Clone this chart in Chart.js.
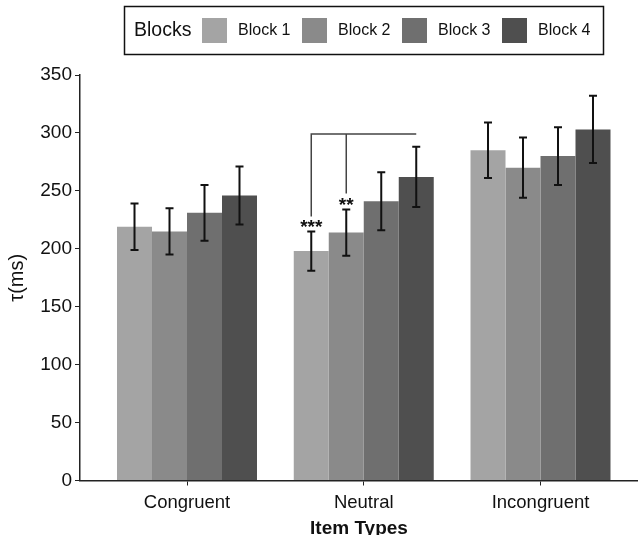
<!DOCTYPE html>
<html>
<head>
<meta charset="utf-8">
<script src="https://cdn.jsdelivr.net/npm/chart.js@4"></script>
<style>
    body { margin: 0; background: #fff; }
</style>
</head>
<body>
<canvas id="chart" width="638" height="535"></canvas>
<script>
/* Categories and series */
const categories = ["Congruent", "Neutral", "Incongruent"];
const blockNames = ["Block 1", "Block 2", "Block 3", "Block 4"];
const block1 = [219, 198, 285];
const block2 = [215, 214, 270];
const block3 = [231, 241, 280];
const block4 = [246, 262, 303];

/* Error bar half widths */
const block1Err = [20, 17, 24];
const block2Err = [20, 20, 26];
const block3Err = [24, 25, 25];
const block4Err = [25, 26, 29];

/* Axis ticks */
const yTicks = [0, 50, 100, 150, 200, 250, 300, 350];

/* Significance bracket on Neutral */
const bracketLevel = 299;
const sigMarks = ["***", "**"];

const barColours = ["#a4a4a4", "#8a8a8a", "#6f6f6f", "#4f4f4f"];
const seriesValues = [block1, block2, block3, block4];
const seriesErrors = [block1Err, block2Err, block3Err, block4Err];
const FONT = "'Liberation Sans', Arial, sans-serif";

Chart.defaults.font.family = FONT;
Chart.defaults.color = "#111";

/* Error bars */
const errorBars = {
    id: "errorBars",
    afterDatasetsDraw(chart) {
        const ctx = chart.ctx;
        const y = chart.scales.y;
        ctx.save();
        ctx.strokeStyle = "#111";
        ctx.lineWidth = 2;
        chart.data.datasets.forEach((ds, i) => {
            chart.getDatasetMeta(i).data.forEach((bar, j) => {
                const v = seriesValues[i][j], e = seriesErrors[i][j];
                const top = y.getPixelForValue(v + e);
                const bot = y.getPixelForValue(v - e);
                ctx.beginPath();
                ctx.moveTo(bar.x, top); ctx.lineTo(bar.x, bot);
                ctx.moveTo(bar.x - 4, top); ctx.lineTo(bar.x + 4, top);
                ctx.moveTo(bar.x - 4, bot); ctx.lineTo(bar.x + 4, bot);
                ctx.stroke();
            });
        });
        ctx.restore();
    }
};

/* Bracket with stars */
const bracket = {
    id: "bracket",
    afterDatasetsDraw(chart) {
        const ctx = chart.ctx;
        const y = chart.scales.y;
        const j = 1;
        const b1 = chart.getDatasetMeta(0).data[j];
        const b2 = chart.getDatasetMeta(1).data[j];
        const b4 = chart.getDatasetMeta(3).data[j];
        const level = y.getPixelForValue(bracketLevel);
        const top1 = y.getPixelForValue(block1[j] + block1Err[j]);
        const top2 = y.getPixelForValue(block2[j] + block2Err[j]);
        ctx.save();
        ctx.strokeStyle = "#444";
        ctx.lineWidth = 1.5;
        ctx.beginPath();
        ctx.moveTo(b4.x, level); ctx.lineTo(b1.x, level); ctx.lineTo(b1.x, top1 - 15);
        ctx.moveTo(b2.x, level); ctx.lineTo(b2.x, top2 - 16);
        ctx.stroke();
        ctx.fillStyle = "#111";
        ctx.font = "bold 19px " + FONT;
        ctx.textAlign = "center";
        ctx.textBaseline = "alphabetic";
        ctx.fillText(sigMarks[0], b1.x, top1 + 2);
        ctx.fillText(sigMarks[1], b2.x, top2 + 2);
        ctx.restore();
    }
};

/* Boxed legend with inline title */
const boxLegend = {
    id: "boxLegend",
    afterDraw(chart) {
        const ctx = chart.ctx;
        ctx.save();
        ctx.strokeStyle = "#111";
        ctx.lineWidth = 1.5;
        ctx.strokeRect(124.5, 6.5, 479, 48);
        ctx.fillStyle = "#111";
        ctx.textBaseline = "middle";
        ctx.font = "19.5px " + FONT;
        ctx.fillText("Blocks", 134, 31);
        ctx.font = "16px " + FONT;
        chart.data.datasets.forEach((ds, i) => {
            const x = 202 + i * 100;
            ctx.fillStyle = ds.backgroundColor;
            ctx.fillRect(x, 18, 25, 25);
            ctx.fillStyle = "#111";
            ctx.fillText(ds.label, x + 36, 31);
        });
        ctx.restore();
    }
};

new Chart(document.getElementById("chart"), {
    type: "bar",
    data: {
        datasets: blockNames.map((name, i) => ({
            label: name,
            data: seriesValues[i].map((v, j) => ({ x: j + 1, y: v })),
            backgroundColor: barColours[i],
            categoryPercentage: 0.792,
            barPercentage: 1
        }))
    },
    options: {
        responsive: false,
        animation: false,
        layout: { padding: { top: 75, left: 0, right: 0, bottom: -5 } },
        plugins: {
            legend: { display: false },
            tooltip: { enabled: false }
        },
        scales: {
            x: {
                type: "linear",
                offset: false,
                min: 0.3946,
                max: 3.5516,
                afterBuildTicks: s => { s.ticks = categories.map((c, i) => ({ value: i + 1 })); },
                afterFit: s => { s.height = 59.5; },
                ticks: {
                    callback: v => categories[v - 1],
                    font: { size: 18.5 },
                    color: "#111",
                    padding: 6
                },
                grid: { offset: false, drawOnChartArea: false, drawTicks: true, tickLength: 5, color: "#222" },
                border: { display: true, color: "#222", width: 1.5 },
                title: {
                    display: true,
                    text: "Item Types",
                    font: { size: 19, weight: "bold" },
                    color: "#111",
                    padding: 0
                }
            },
            y: {
                min: 0,
                max: 350,
                afterBuildTicks: s => { s.ticks = yTicks.map(v => ({ value: v })); },
                afterFit: s => { s.width = 80; },
                ticks: { font: { size: 19 }, color: "#111", padding: 3 },
                grid: { drawOnChartArea: false, drawTicks: true, tickLength: 5, color: "#222" },
                border: { display: true, color: "#222", width: 1.5 },
                title: {
                    display: true,
                    text: "τ(ms)",
                    font: { size: 20 },
                    color: "#111",
                    padding: { top: 5, bottom: 0 }
                }
            }
        }
    },
    plugins: [errorBars, bracket, boxLegend]
});
</script>
</body>
</html>
